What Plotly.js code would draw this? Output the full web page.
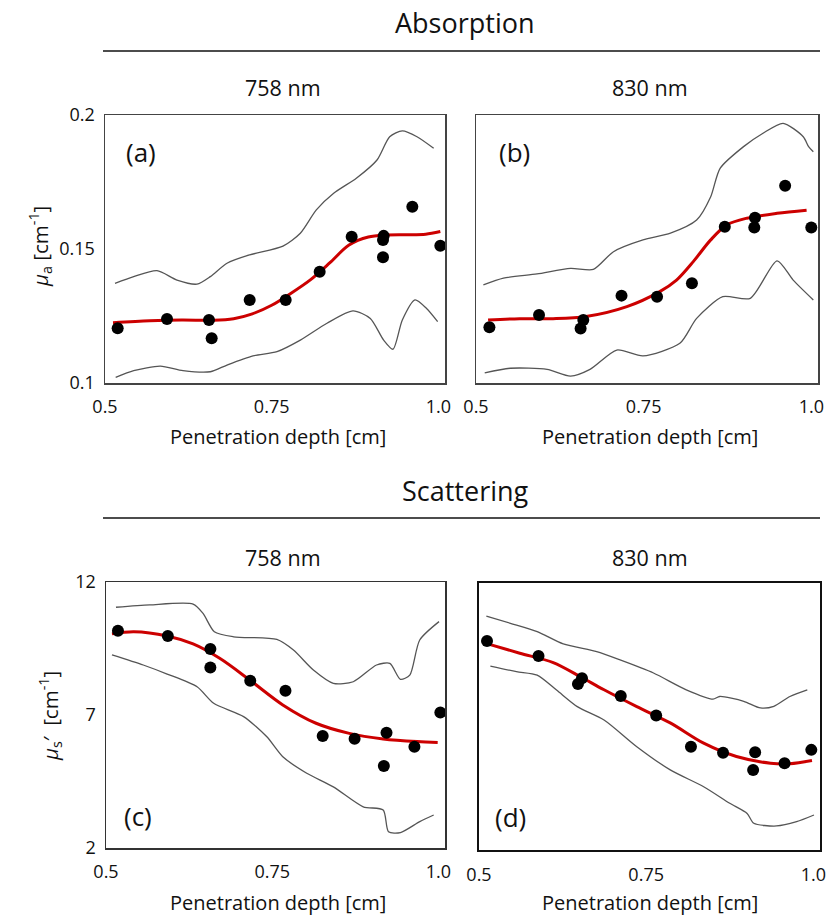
<!DOCTYPE html>
<html>
<head>
<meta charset="utf-8">
<script src="https://cdn.plot.ly/plotly-3.0.1.min.js"></script>
<style>html,body{margin:0;padding:0;background:#fff;}#chart{width:838px;height:923px;}</style>
</head>
<body>
<div id="chart"></div>
<script>
// ---------- Data ----------
const xTickVals = [0.5, 0.75, 1.0];
const xTickText = ["0.5", "0.75", "1.0"];

// (a) Absorption 758 nm
const aDepth = [0.519, 0.593, 0.656, 0.660, 0.717, 0.771, 0.822, 0.870, 0.918, 0.917, 0.917, 0.961, 1.003];
const aMua   = [0.1204, 0.1239, 0.1235, 0.1167, 0.1310, 0.1310, 0.1415, 0.1546, 0.1549, 0.1534, 0.1469, 0.1658, 0.1512];
const aFitX  = [0.512, 0.567, 0.615, 0.663, 0.693, 0.721, 0.750, 0.779, 0.808, 0.837, 0.866, 0.895, 0.923, 0.952, 0.981, 1.003];
const aFitY  = [0.1225, 0.1232, 0.1235, 0.1234, 0.1240, 0.1258, 0.1290, 0.1335, 0.1385, 0.1448, 0.1515, 0.1545, 0.1552, 0.1553, 0.1555, 0.1565];
const aUpX   = [0.515, 0.543, 0.578, 0.608, 0.638, 0.658, 0.683, 0.717, 0.767, 0.793, 0.817, 0.843, 0.877, 0.908, 0.927, 0.946, 0.968, 0.993];
const aUpY   = [0.1372, 0.1397, 0.1419, 0.1384, 0.1369, 0.1397, 0.1447, 0.1478, 0.1511, 0.1559, 0.1646, 0.1708, 0.1764, 0.1832, 0.1919, 0.1941, 0.1919, 0.1876];
const aLoX   = [0.516, 0.543, 0.583, 0.617, 0.658, 0.683, 0.722, 0.758, 0.793, 0.833, 0.872, 0.898, 0.918, 0.932, 0.946, 0.965, 0.982, 0.999];
const aLoY   = [0.1021, 0.1046, 0.1063, 0.1046, 0.1042, 0.1067, 0.1101, 0.1117, 0.1160, 0.1223, 0.1269, 0.1241, 0.1160, 0.1126, 0.1235, 0.1310, 0.1279, 0.1229];

// (b) Absorption 830 nm
const bDepth = [0.520, 0.594, 0.660, 0.656, 0.717, 0.770, 0.822, 0.871, 0.916, 0.915, 0.961, 1.000];
const bMua   = [0.1208, 0.1254, 0.1235, 0.1203, 0.1326, 0.1322, 0.1372, 0.1583, 0.1617, 0.1580, 0.1736, 0.1580];
const bFitX  = [0.518, 0.565, 0.615, 0.664, 0.725, 0.774, 0.799, 0.824, 0.850, 0.874, 0.904, 0.949, 0.993];
const bFitY  = [0.1235, 0.1240, 0.1240, 0.1248, 0.1285, 0.1341, 0.1384, 0.1453, 0.1534, 0.1590, 0.1615, 0.1633, 0.1645];
const bUpX   = [0.511, 0.541, 0.591, 0.641, 0.675, 0.705, 0.749, 0.790, 0.829, 0.850, 0.864, 0.899, 0.928, 0.958, 0.988, 0.996, 1.003];
const bUpY   = [0.1366, 0.1391, 0.1407, 0.1428, 0.1424, 0.1490, 0.1534, 0.1559, 0.1608, 0.1695, 0.1801, 0.1882, 0.1932, 0.1969, 0.1919, 0.1882, 0.1863];
const bLoX   = [0.513, 0.551, 0.606, 0.641, 0.670, 0.710, 0.749, 0.804, 0.829, 0.868, 0.909, 0.949, 0.973, 1.003];
const bLoY   = [0.1038, 0.1055, 0.1051, 0.1026, 0.1051, 0.1123, 0.1101, 0.1148, 0.1241, 0.1322, 0.1316, 0.1456, 0.1384, 0.1310];

// (c) Scattering 758 nm
const cDepth = [0.518, 0.593, 0.657, 0.657, 0.717, 0.770, 0.826, 0.874, 0.922, 0.918, 0.964, 1.003];
const cMus   = [10.17, 9.97, 9.48, 8.79, 8.29, 7.91, 6.21, 6.11, 6.33, 5.08, 5.81, 7.09];
const cFitX  = [0.509, 0.542, 0.592, 0.631, 0.671, 0.716, 0.766, 0.816, 0.866, 0.917, 0.968, 0.999];
const cFitY  = [10.05, 10.13, 9.97, 9.67, 9.13, 8.32, 7.38, 6.69, 6.31, 6.10, 6.00, 5.97];
const cUpX   = [0.515, 0.566, 0.631, 0.646, 0.663, 0.692, 0.757, 0.782, 0.812, 0.842, 0.872, 0.907, 0.927, 0.943, 0.957, 0.972, 1.001];
const cUpY   = [11.05, 11.14, 11.17, 10.82, 10.13, 9.94, 9.84, 9.44, 8.69, 8.19, 8.25, 8.88, 8.94, 8.34, 8.50, 9.82, 10.51];
const cLoX   = [0.509, 0.556, 0.592, 0.637, 0.662, 0.707, 0.742, 0.766, 0.802, 0.842, 0.887, 0.917, 0.925, 0.943, 0.972, 0.993];
const cLoY   = [9.26, 8.88, 8.54, 8.06, 7.44, 6.94, 6.18, 5.43, 4.81, 4.30, 3.55, 3.43, 2.61, 2.58, 2.99, 3.24];

// (d) Scattering 830 nm
const dDepth = [0.512, 0.589, 0.654, 0.648, 0.712, 0.765, 0.817, 0.865, 0.913, 0.910, 0.957, 0.997];
const dMus   = [9.83, 9.27, 8.43, 8.22, 7.77, 7.04, 5.87, 5.64, 5.66, 5.00, 5.25, 5.75];
const dFitX  = [0.513, 0.561, 0.611, 0.651, 0.687, 0.736, 0.786, 0.836, 0.885, 0.936, 0.965, 0.998];
const dFitY  = [9.72, 9.37, 9.02, 8.50, 8.00, 7.37, 6.76, 6.00, 5.50, 5.25, 5.23, 5.35];
const dUpX   = [0.511, 0.547, 0.587, 0.626, 0.676, 0.711, 0.761, 0.810, 0.850, 0.860, 0.896, 0.921, 0.941, 0.965, 0.991];
const dUpY   = [10.76, 10.49, 10.18, 9.72, 9.43, 9.12, 8.63, 8.00, 7.65, 7.75, 7.57, 7.32, 7.38, 7.75, 8.00];
const dLoX   = [0.517, 0.556, 0.587, 0.616, 0.647, 0.687, 0.736, 0.786, 0.836, 0.875, 0.901, 0.911, 0.945, 0.975, 1.001];
const dLoY   = [8.89, 8.68, 8.55, 7.99, 7.37, 6.87, 5.87, 5.00, 4.37, 3.75, 3.37, 3.00, 2.90, 3.06, 3.31];

// ---------- Traces ----------
const FONT = "Open Sans, Noto Sans, sans-serif";
const W = 838, H = 923;
const px = x => x / W;
const py = y => 1 - y / H;

function panel(xa, ya, depth, vals, fx, fy, ux, uy, lx, ly) {
  const g = {type: 'scatter', mode: 'lines', xaxis: xa, yaxis: ya, showlegend: false, hoverinfo: 'skip',
             line: {color: '#555555', width: 1.3, shape: 'spline', smoothing: 0.7}};
  return [
    Object.assign({}, g, {x: ux, y: uy}),
    Object.assign({}, g, {x: lx, y: ly}),
    {type: 'scatter', mode: 'lines', x: fx, y: fy, xaxis: xa, yaxis: ya, showlegend: false,
     line: {color: '#cc0000', width: 3, shape: 'spline', smoothing: 0.9}},
    {type: 'scatter', mode: 'markers', x: depth, y: vals, xaxis: xa, yaxis: ya, showlegend: false,
     marker: {color: '#000000', size: 12}}
  ];
}

const data = [].concat(
  panel('x', 'y', aDepth, aMua, aFitX, aFitY, aUpX, aUpY, aLoX, aLoY),
  panel('x2', 'y2', bDepth, bMua, bFitX, bFitY, bUpX, bUpY, bLoX, bLoY),
  panel('x3', 'y3', cDepth, cMus, cFitX, cFitY, cUpX, cUpY, cLoX, cLoY),
  panel('x4', 'y4', dDepth, dMus, dFitX, dFitY, dUpX, dUpY, dLoX, dLoY)
);

const TICKFONT = {family: FONT, size: 18, color: '#111'};
function xax(dom, anchor, color, width) {
  return {domain: dom, anchor: anchor, range: [0.5, 1.01], showgrid: false, zeroline: false,
          showline: true, mirror: true, linecolor: color, linewidth: width, ticks: '',
          tickvals: xTickVals, ticktext: xTickText, ticklabelstandoff: 7, tickfont: TICKFONT};
}
function yax(dom, anchor, range, color, width, tv, tt) {
  return {domain: dom, anchor: anchor, range: range, showgrid: false, zeroline: false,
          showline: true, mirror: true, linecolor: color, linewidth: width, ticks: '',
          tickvals: tv, ticktext: tt, showticklabels: tv.length > 0, ticklabelstandoff: 5,
          tickfont: TICKFONT};
}

const topY = [py(383), py(115)];
const botY = [py(848), py(582)];

function ann(text, x, y, size, extra) {
  return Object.assign({text: text, x: px(x), y: py(y), xref: 'paper', yref: 'paper',
    showarrow: false, xanchor: 'center', yanchor: 'middle',
    font: {family: FONT, size: size, color: '#111'}}, extra || {});
}

const layout = {
  width: W, height: H,
  margin: {l: 0, r: 0, t: 0, b: 0},
  paper_bgcolor: '#ffffff', plot_bgcolor: '#ffffff',
  xaxis:  xax([px(105), px(445)], 'y', '#444', 1.5),
  yaxis:  yax(topY, 'x', [0.1, 0.2], '#444', 1.5, [0.1, 0.15, 0.2], ["0.1", "0.15", "0.2"]),
  xaxis2: xax([px(476), px(818)], 'y2', '#444', 1.5),
  yaxis2: yax(topY, 'x2', [0.1, 0.2], '#444', 1.5, [], []),
  xaxis3: xax([px(106), px(445)], 'y3', '#333', 1.5),
  yaxis3: yax(botY, 'x3', [2, 12], '#333', 1.5, [2, 7, 12], ["2", "7", "12"]),
  xaxis4: xax([px(479), px(820)], 'y4', '#111', 2),
  yaxis4: yax([py(850), py(583)], 'x4', [2, 12], '#111', 2, [], []),
  shapes: [
    {type: 'line', xref: 'paper', yref: 'paper', x0: px(103), x1: px(820), y0: py(51), y1: py(51),
     line: {color: '#111', width: 1.5}},
    {type: 'line', xref: 'paper', yref: 'paper', x0: px(103), x1: px(820), y0: py(518), y1: py(518),
     line: {color: '#111', width: 1.5}}
  ],
  annotations: [
    ann('Absorption', 465, 22, 27),
    ann('Scattering', 465, 490, 27),
    ann('758 nm', 283, 88, 21.5),
    ann('830 nm', 650, 88, 21.5),
    ann('758 nm', 283, 557, 21.5),
    ann('830 nm', 650, 557, 21.5),
    ann('Penetration depth [cm]', 278, 436, 20),
    ann('Penetration depth [cm]', 650, 436, 20),
    ann('Penetration depth [cm]', 278, 902, 20),
    ann('Penetration depth [cm]', 650, 902, 20),
    ann('(a)', 141, 152, 26),
    ann('(b)', 514, 152, 26),
    ann('(c)', 138, 816, 26),
    ann('(d)', 511, 817, 26),
    ann('<i>μ</i><sub>a</sub> [cm<sup>-1</sup>]', 40, 247, 20.5, {textangle: -90}),
    ann('<i>μ</i><sub>s</sub>′  [cm<sup>-1</sup>]', 50, 716, 20.5, {textangle: -90})
  ]
};

Plotly.newPlot('chart', data, layout, {staticPlot: true, displayModeBar: false});
</script>
</body>
</html>
